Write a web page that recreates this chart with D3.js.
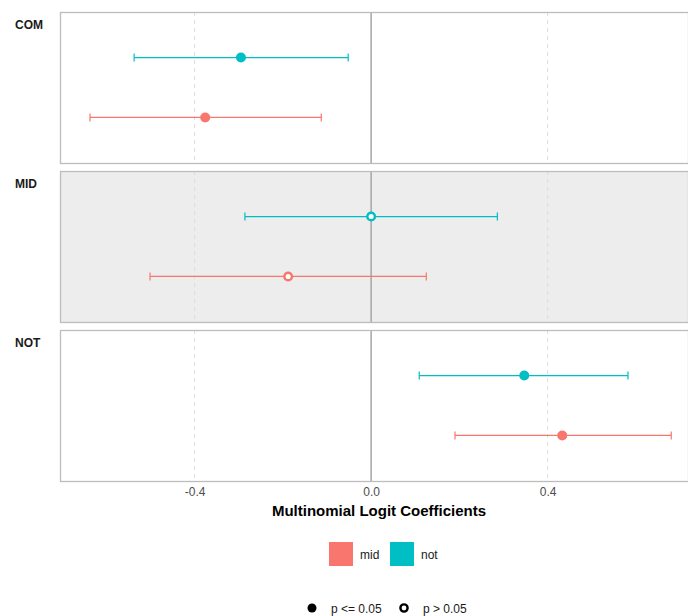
<!DOCTYPE html>
<html>
<head>
<meta charset="utf-8">
<script src="https://cdn.jsdelivr.net/npm/d3@7"></script>
<style>
  body { margin: 0; background: #fff; }
  svg { font-family: "Liberation Sans", Arial, sans-serif; }
</style>
</head>
<body>
<script>
// facet panels, groups and estimates
var panels = ["COM", "MID", "NOT"];
var groups = ["not", "mid"];
var estMid = [-0.376, -0.188, 0.433];
var loMid  = [-0.637, -0.501, 0.190];
var hiMid  = [-0.113, 0.125, 0.680];
var estNot = [-0.295, 0.000, 0.347];
var loNot  = [-0.537, -0.286, 0.109];
var hiNot  = [-0.052, 0.286, 0.582];
var sigMid = [true, false, true];
var sigNot = [true, false, true];
var xTicks = [-0.4, 0.0, 0.4];

var colors = {mid: "#F8766D", not: "#00BFC4"};

var rows = [];
panels.forEach(function(p, i){
    rows.push({panel: p, group: "mid", est: estMid[i], lo: loMid[i], hi: hiMid[i], sig: sigMid[i]});
    rows.push({panel: p, group: "not", est: estNot[i], lo: loNot[i], hi: hiNot[i], sig: sigNot[i]});
});

var w = 688, h = 616;
var svg = d3.select("body").append("svg")
    .attr("width", w)
    .attr("height", h);

var x = d3.scaleLinear()
    .domain([-0.705, 0.718])
    .range([60, 688]);

var panelTop = [12, 171, 330], panelH = 151;

panels.forEach(function(p, i){
    var g = svg.append("g")
        .attr("transform", "translate(0," + panelTop[i] + ")");

    var y = d3.scalePoint()
        .domain(groups)
        .range([0, panelH])
        .padding(0.76);

    // panel background
    g.append("rect")
        .attr("x", 60).attr("y", 0)
        .attr("width", 688 - 60).attr("height", panelH)
        .attr("fill", p === "MID" ? "#EDEDED" : "#fff");

    // dashed grid
    g.selectAll(".grid")
        .data([-0.4, 0.4])
        .enter().append("line")
        .attr("x1", function(d){ return x(d); })
        .attr("x2", function(d){ return x(d); })
        .attr("y1", 0).attr("y2", panelH)
        .attr("stroke", "#DCDCDC")
        .attr("stroke-width", 1)
        .attr("stroke-dasharray", "4,4");

    // zero line
    g.append("line")
        .attr("x1", x(0)).attr("x2", x(0))
        .attr("y1", 0).attr("y2", panelH)
        .attr("stroke", "#A6A6A6")
        .attr("stroke-width", 1.5);

    // border
    g.append("rect")
        .attr("x", 60.5).attr("y", 0.5)
        .attr("width", 688 - 60).attr("height", panelH)
        .attr("fill", "none")
        .attr("stroke", "#BDBDBD")
        .attr("stroke-width", 1.3);

    // strip label
    svg.append("text")
        .attr("x", 15)
        .attr("y", panelTop[i] + 17)
        .attr("font-size", 12)
        .attr("font-weight", "bold")
        .attr("fill", "#1a1a1a")
        .text(p);

    var data = rows.filter(function(d){ return d.panel === p; });

    var bars = g.selectAll(".err")
        .data(data)
        .enter().append("g");

    bars.append("line")
        .attr("x1", function(d){ return x(d.lo); })
        .attr("x2", function(d){ return x(d.hi); })
        .attr("y1", function(d){ return y(d.group); })
        .attr("y2", function(d){ return y(d.group); })
        .attr("stroke", function(d){ return colors[d.group]; })
        .attr("stroke-width", 1.2);

    ["lo", "hi"].forEach(function(k){
        bars.append("line")
            .attr("x1", function(d){ return x(d[k]); })
            .attr("x2", function(d){ return x(d[k]); })
            .attr("y1", function(d){ return y(d.group) - 4; })
            .attr("y2", function(d){ return y(d.group) + 4; })
            .attr("stroke", function(d){ return colors[d.group]; })
            .attr("stroke-width", 1.2);
    });

    bars.append("circle")
        .attr("cx", function(d){ return x(d.est); })
        .attr("cy", function(d){ return y(d.group); })
        .attr("r", function(d){ return d.sig ? 5 : 3.8; })
        .attr("fill", function(d){ return d.sig ? colors[d.group] : "#fff"; })
        .attr("stroke", function(d){ return colors[d.group]; })
        .attr("stroke-width", function(d){ return d.sig ? 0 : 2.5; });
});

// x axis
var xAxis = d3.axisBottom(x)
    .tickValues(xTicks)
    .tickFormat(function(d){ return d3.format(".1f")(d).replace("\u2212", "-"); })
    .tickSize(0)
    .tickPadding(6);

var axis = svg.append("g")
    .attr("transform", "translate(0," + (panelTop[2] + panelH) + ")")
    .call(xAxis);
axis.select(".domain").remove();
axis.selectAll(".tick text")
    .attr("fill", "#4D4D4D")
    .attr("font-size", 12)
    .attr("font-family", "Liberation Sans, Arial, sans-serif");

svg.append("text")
    .attr("x", 379)
    .attr("y", 516)
    .attr("text-anchor", "middle")
    .attr("font-size", 15)
    .attr("font-weight", "bold")
    .attr("fill", "#000")
    .text("Multinomial Logit Coefficients");

// colour legend
var legendGroups = ["mid", "not"];
var leg = svg.selectAll(".leg")
    .data(legendGroups)
    .enter().append("g")
    .attr("transform", function(d, i){ return "translate(" + (329 + i * 61) + ",542)"; });
leg.append("rect")
    .attr("width", 24).attr("height", 24)
    .attr("fill", function(d){ return colors[d]; });
leg.append("text")
    .attr("x", 31).attr("y", 16.5)
    .attr("font-size", 12)
    .attr("fill", "#1a1a1a")
    .text(function(d){ return d; });

// shape legend
var shapeLabels = ["p <= 0.05", "p > 0.05"];
var sleg = svg.selectAll(".sleg")
    .data(shapeLabels)
    .enter().append("g")
    .attr("transform", function(d, i){ return "translate(" + (312 + i * 92) + ",608)"; });
sleg.append("circle")
    .attr("r", function(d, i){ return i === 0 ? 4.5 : 3.6; })
    .attr("fill", function(d, i){ return i === 0 ? "#000" : "#fff"; })
    .attr("stroke", "#000")
    .attr("stroke-width", function(d, i){ return i === 0 ? 0 : 2.4; });
sleg.append("text")
    .attr("x", 19).attr("y", 4.5)
    .attr("font-size", 12)
    .attr("fill", "#1a1a1a")
    .text(function(d){ return d; });
</script>
</body>
</html>
